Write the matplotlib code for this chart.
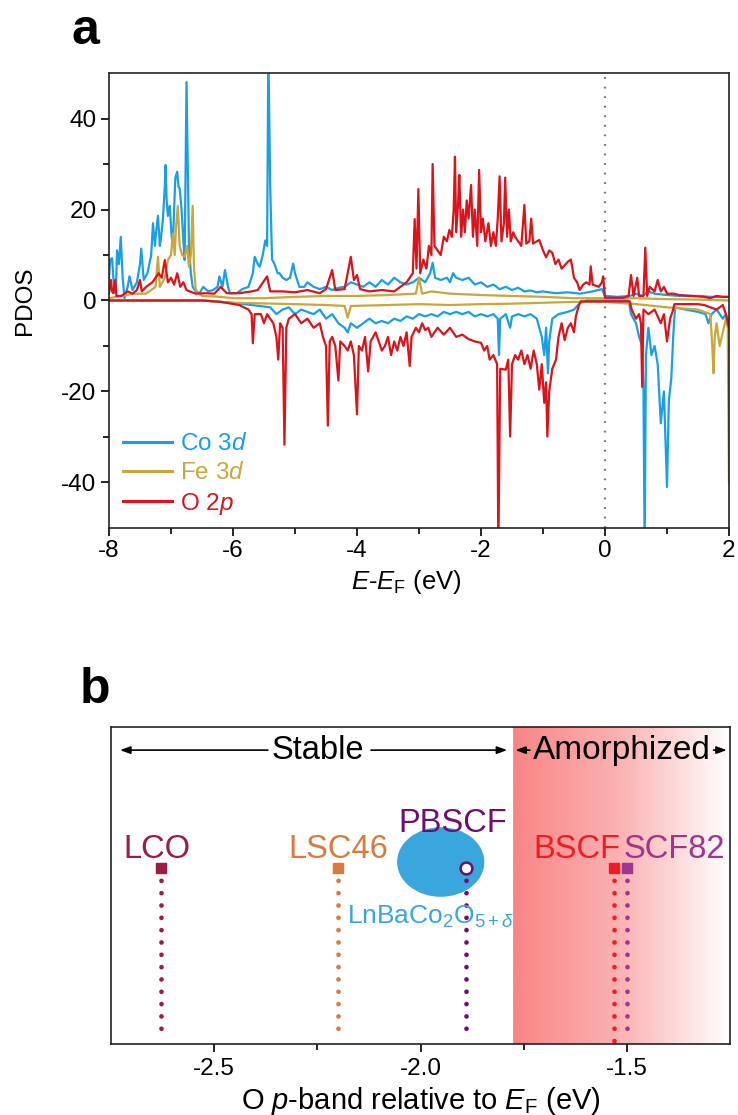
import numpy as np
import matplotlib
matplotlib.use("Agg")
import matplotlib.pyplot as plt
from matplotlib.colors import LinearSegmentedColormap
from matplotlib.patches import Ellipse

plt.rcParams['font.family'] = ['Liberation Sans', 'DejaVu Sans']
plt.rcParams['mathtext.fontset'] = 'custom'
plt.rcParams['mathtext.rm'] = 'Liberation Sans'
plt.rcParams['mathtext.it'] = 'Liberation Sans:italic'
plt.rcParams['mathtext.bf'] = 'Liberation Sans:bold'
plt.rcParams['axes.unicode_minus'] = False

# ---------------- Panel a data (energy, PDOS) ----------------
co_up_e = [-8.00,-7.98,-7.95,-7.92,-7.89,-7.87,-7.84,-7.81,-7.78,-7.75,-7.70,-7.67,-7.62,-7.55,-7.50,-7.48,-7.44,-7.38,-7.32,-7.29,
           -7.26,-7.24,-7.21,-7.18,-7.16,-7.13,-7.10,-7.09,-7.07,-7.05,-7.02,-6.99,-6.97,-6.95,-6.93,-6.90,-6.88,-6.86,-6.83,-6.80,
           -6.78,-6.75,-6.73,-6.71,-6.68,-6.65,-6.60,-6.54,-6.48,-6.40,-6.32,-6.25,-6.22,-6.17,-6.13,-6.08,-6.05,-5.94,-5.85,-5.75,
           -5.68,-5.65,-5.60,-5.57,-5.52,-5.48,-5.45,-5.43,-5.40,-5.37,-5.33,-5.28,-5.25,-5.20,-5.14,-5.08,-5.03,-5.00,-4.93,-4.85,
           -4.80,-4.70,-4.60,-4.50,-4.40,-4.30,-4.20,-4.10,-4.00,-3.90,-3.80,-3.70,-3.60,-3.50,-3.40,-3.30,-3.20,-3.10,-3.00,-2.90,
           -2.82,-2.78,-2.74,-2.65,-2.55,-2.50,-2.45,-2.40,-2.30,-2.20,-2.10,-2.00,-1.90,-1.80,-1.70,-1.60,-1.50,-1.40,-1.30,-1.20,
           -1.10,-1.00,-0.80,-0.60,-0.40,-0.20,-0.05,0.00,0.20,0.40,0.50,0.60,0.70,0.80,1.00,1.20,1.50,1.70,2.00]
co_up_v = [5,9,9.3,3,1.6,11,8,14,5,0.5,3,5.3,2.3,4,8,11.4,4.5,6,10,17,
           12,15,18.6,12,14,18,25,29.8,22,18.6,20.8,14,12,20,27,28.3,25,24.6,20,13,
           8.9,48,30,12,6,3,2,1.6,3,2,2.3,3,5.3,3,6.7,3,1.6,1.6,2.5,3,
           6,9.6,8,7.4,10,13.2,12,55,25,9,8,6,6,5,4.5,5,8.1,6,3,3,
           4,3,2.5,3,2.3,2.8,3,4,3.5,3,4,3,4.5,3.5,5,4,3.5,4,5,4,
           6,8.3,5,4.5,5,4,6,5,4.5,5,3.5,4,3,3.5,2.5,3,2.3,2.8,2,2.2,
           1.8,2,1.6,1.8,1.5,2,2.5,1,0.8,1,1.5,1,2,1.5,1.2,1,1,0.8,0.8]

co_dn_e = [-8.00,-6.50,-6.00,-5.70,-5.40,-5.30,-5.20,-5.10,-5.00,-4.90,-4.80,-4.70,-4.60,-4.50,-4.40,-4.30,-4.20,-4.15,-4.10,-4.00,
           -3.90,-3.80,-3.70,-3.60,-3.50,-3.40,-3.30,-3.20,-3.10,-3.00,-2.90,-2.80,-2.70,-2.60,-2.50,-2.40,-2.30,-2.20,-2.10,-2.00,
           -1.90,-1.80,-1.73,-1.71,-1.69,-1.60,-1.53,-1.50,-1.40,-1.30,-1.20,-1.10,-1.02,-0.98,-0.95,-0.92,-0.90,-0.85,-0.75,-0.60,
           -0.50,-0.40,-0.30,0.38,0.42,0.50,0.55,0.60,0.62,0.64,0.66,0.70,0.75,0.80,0.85,0.90,0.95,1.00,1.03,1.07,
           1.10,1.13,1.30,1.50,1.62,1.67,1.72,1.80,1.90,1.95,2.00]
co_dn_v = [0,0,-0.5,-1,-1.5,-3,-2,-1.5,-3,-2,-2.5,-3,-2,-4,-3,-5,-6,-7,-5,-6,
           -5,-4,-5,-4.5,-5,-4,-4.5,-3.5,-4,-3,-3.5,-3,-3.5,-2.5,-3,-2.5,-3,-2.5,-3.5,-3,
           -3.5,-3,-4,-12,-4,-3,-6,-3.5,-3,-3.5,-3,-4,-8,-12,-6,-16,-9,-4,-3,-2.5,
           -2,-0.5,0,0,-3,-5,-8,-10,-19,-55,-12,-6,-12,-10,-14,-27,-20,-41,-22,-17,
           -8,-1.5,-2,-2.5,-3,-5,-3,-2,-4,-3,-5]

fe_up_e = [-8.00,-7.80,-7.60,-7.40,-7.25,-7.21,-7.18,-7.10,-7.05,-7.00,-6.97,-6.94,-6.92,-6.89,-6.86,-6.82,-6.78,-6.74,-6.71,-6.68,
           -6.65,-6.63,-6.60,-6.50,-6.20,-6.00,-5.50,-5.00,-4.50,-4.00,-3.50,-3.05,-3.00,-2.95,-2.80,-2.50,-2.00,-1.50,-1.00,-0.50,
           0.00,0.50,1.00,1.50,2.00]
fe_up_v = [0.5,1,1.5,1.5,3,9.6,3,5,8.9,10,14.7,10,16,20.8,12,10,9.6,12,7.4,10,
           20.8,7.4,2.3,1,0.8,0.5,0.5,0.8,1,1,1.2,1.5,5,1.5,2,1.5,1.2,1,0.8,0.5,
           0.5,0.5,0.3,0.2,0]

fe_dn_e = [-8.00,-6.50,-6.00,-5.00,-4.50,-4.20,-4.15,-4.10,-3.50,-3.00,-2.50,-2.00,-1.50,-1.00,-0.50,0.00,0.50,1.00,1.50,1.70,
           1.73,1.75,1.77,1.80,1.85,1.90,1.95,1.98,2.00]
fe_dn_v = [0,0,-0.5,-0.8,-1,-1.2,-3.8,-1.2,-1,-0.8,-1,-0.8,-0.7,-0.5,-0.3,-0.3,-0.8,-1.5,-2,-3,
           -10,-16,-8,-5,-10,-7,-4,-6,-40]

o_up_e = [-8.00,-7.97,-7.95,-7.93,-7.90,-7.88,-7.80,-7.70,-7.62,-7.55,-7.50,-7.47,-7.40,-7.30,-7.20,-7.15,-7.10,-7.05,-7.00,-6.95,
          -6.90,-6.85,-6.80,-6.75,-6.70,-6.60,-6.45,-6.30,-6.20,-6.10,-5.90,-5.70,-5.60,-5.45,-5.40,-5.20,-5.00,-4.80,-4.60,-4.50,
          -4.40,-4.35,-4.20,-4.10,-4.05,-4.00,-3.95,-3.80,-3.60,-3.40,-3.30,-3.20,-3.10,-3.07,-3.04,-3.01,-2.98,-2.93,-2.88,-2.84,
          -2.80,-2.78,-2.75,-2.70,-2.65,-2.60,-2.55,-2.51,-2.47,-2.44,-2.42,-2.40,-2.37,-2.35,-2.32,-2.29,-2.26,-2.23,-2.20,-2.16,
          -2.13,-2.10,-2.06,-2.03,-2.00,-1.97,-1.93,-1.88,-1.84,-1.80,-1.76,-1.73,-1.70,-1.67,-1.63,-1.61,-1.58,-1.55,-1.52,-1.48,
          -1.45,-1.40,-1.35,-1.30,-1.27,-1.22,-1.19,-1.16,-1.10,-1.06,-1.00,-0.95,-0.90,-0.85,-0.80,-0.75,-0.70,-0.60,-0.55,-0.50,
          -0.45,-0.41,-0.35,-0.30,-0.25,-0.23,-0.20,-0.10,-0.05,-0.03,0.00,0.30,0.38,0.42,0.46,0.52,0.55,0.62,0.65,0.68,
          0.72,0.80,0.85,0.90,0.95,1.00,1.10,1.20,1.40,1.60,1.70,1.80,1.90,2.00]
o_up_v = [1.6,4.5,2,1.6,4.5,1,1,2,1.5,2.3,4.5,2,3,4,6,5,8.9,4,5,3.5,
          6,3,4,2.3,2,1.5,1.6,1.5,3,1.6,1.6,2,2.3,5.3,2,2,1.8,2.3,1.6,2.5,
          6.7,2.3,2.5,9.6,4.5,5.6,2.5,2,2.3,2,3,4,6,17.9,7,24.5,6,9,7,12,
          10,30,12,11,10,14,13,15.5,14,20,31.6,15,21,27.6,14,20,15,22,18,25.4,
          14,20,12,28.7,15,18,13,17,12,15,12,18,27.3,13,17,27,14,20,13,15,
          14,13,12,21,12.5,13,18,12.5,13,13.3,11,9.5,11,10.5,8,9,7,8.5,9,5,
          4,2.3,3.5,4,3.5,7.5,3.5,3,4,5.3,0.6,0.6,1,5.6,1,5,1,1,11.6,1,
          3,2,4.5,2,3,1.5,1.5,1.2,1,0.8,0.5,1,0.8,0.8]

o_dn_e = [-8.00,-6.50,-6.20,-5.90,-5.75,-5.70,-5.68,-5.65,-5.55,-5.50,-5.45,-5.35,-5.30,-5.27,-5.24,-5.20,-5.17,-5.14,-5.10,-5.00,
          -4.90,-4.80,-4.70,-4.60,-4.55,-4.50,-4.47,-4.44,-4.40,-4.35,-4.30,-4.27,-4.20,-4.15,-4.10,-4.05,-4.00,-3.97,-3.92,-3.87,
          -3.82,-3.78,-3.70,-3.60,-3.55,-3.50,-3.45,-3.40,-3.35,-3.30,-3.25,-3.20,-3.15,-3.12,-3.05,-3.00,-2.95,-2.90,-2.85,-2.80,
          -2.70,-2.60,-2.50,-2.40,-2.30,-2.20,-2.10,-2.00,-1.95,-1.90,-1.86,-1.80,-1.74,-1.72,-1.69,-1.60,-1.56,-1.53,-1.50,-1.45,
          -1.40,-1.35,-1.30,-1.25,-1.20,-1.15,-1.10,-1.06,-1.02,-0.98,-0.95,-0.93,-0.90,-0.85,-0.79,-0.75,-0.70,-0.65,-0.60,-0.55,
          -0.50,-0.47,-0.42,-0.39,0.40,0.43,0.50,0.55,0.58,0.60,0.62,0.70,0.80,0.90,0.95,1.00,1.05,1.10,1.12,1.50,
          1.60,1.70,1.80,1.90,1.95,2.00]
o_dn_v = [0,0,-0.3,-1,-2,-3,-9.4,-3,-3,-5,-3,-5,-8,-13,-5,-6,-31.7,-6,-4,-3,
          -5,-4,-6,-5,-8,-10,-27.5,-9,-8,-10,-17.6,-9,-10,-11,-9,-12,-25,-10,-11,-8,
          -15.6,-9,-7,-11,-10,-8,-12,-9,-11,-8,-10,-7,-14.4,-8,-6,-7,-5,-6.5,-6,-8,
          -6,-7.5,-6,-8,-7.5,-8.5,-9,-9.3,-11,-10,-13,-12,-14,-55,-15,-15.2,-13,-29.9,-14,-12,
          -13,-11,-14,-12,-15,-11,-14,-19.6,-14,-22.5,-18,-29.9,-20,-15,-13,-8,-5,-8.7,-6,-5,
          -7,-3.5,-1,-0.2,-0.2,-2,-4,-3,-5,-19,-2,-3,-2,-5,-3,-9,-4,-2,-0.8,-0.8,
          -1,-1.5,-2,-1,-3,-6]

legend_labels = ['Co 3$\\it{d}$', 'Fe 3$\\it{d}$', 'O 2$\\it{p}$']
colors_a = ['#1A9FE3', '#C9A73C', '#D9141B']

# ---------------- Panel b data ----------------
materials = ['LCO', 'LSC46', 'PBSCF', 'BSCF', 'SCF82']
op_band = [-2.63, -2.20, -1.89, -1.53, -1.50]
mat_colors = ['#9C1C42', '#D97A3F', '#6E0F6E', '#EE1C25', '#A1348E']
label_x = [-2.639, -2.20, -1.922, -1.62, -1.385]
amorph_start = -1.775

fig = plt.figure(figsize=(7.38, 11.15), dpi=100)

# ===== Panel a =====
ax = fig.add_axes([0.1477, 0.5265, 0.8401, 0.408])
ax.plot(co_up_e, co_up_v, color=colors_a[0], lw=1.6, label=legend_labels[0])
ax.plot(co_dn_e, co_dn_v, color=colors_a[0], lw=1.6)
ax.plot(fe_up_e, fe_up_v, color=colors_a[1], lw=1.6, label=legend_labels[1])
ax.plot(fe_dn_e, fe_dn_v, color=colors_a[1], lw=1.6)
ax.plot(o_up_e, o_up_v, color=colors_a[2], lw=1.6, label=legend_labels[2])
ax.plot(o_dn_e, o_dn_v, color=colors_a[2], lw=1.6)
ax.axvline(0, color='#777777', lw=1.6, ls=(0, (0.8, 3.5)), zorder=0.5)
ax.set_xlim(-8, 2)
ax.set_ylim(-50, 50)
ax.set_xticks([-8, -6, -4, -2, 0, 2])
ax.set_xticks([-7, -5, -3, -1, 1], minor=True)
ax.set_yticks([-40, -20, 0, 20, 40])
ax.set_yticks([-30, -10, 10, 30], minor=True)
ax.tick_params(which='major', direction='out', length=6, width=1.2, labelsize=17.5, pad=3)
ax.tick_params(which='minor', direction='out', length=4, width=1.2)
for s in ax.spines.values():
    s.set_linewidth(1.2)
    s.set_color('#222222')
ax.set_ylabel('PDOS', fontsize=17.5)
ax.yaxis.set_label_coords(-0.135, 0.5)
ax.yaxis.label.set_va('center')
ax.set_xlabel('$\\it{E}$-$\\it{E}_{\\rm F}$ (eV)', fontsize=18.5)
ax.xaxis.set_label_coords(0.48, -0.118)
ax.xaxis.label.set_va('center')
leg = ax.legend(frameon=False, loc='lower left', bbox_to_anchor=(0.022, 0.025),
                borderaxespad=0, borderpad=0, fontsize=17.5, handlelength=2.05,
                handletextpad=0.3, labelspacing=0.27)
for t, c in zip(leg.get_texts(), colors_a):
    t.set_color(c)
for h in leg.get_lines():
    h.set_linewidth(2.2)
fig.text(0.097, 0.972, 'a', fontsize=36, fontweight='bold', ha='left', va='center')

# ===== Panel b =====
bx = fig.add_axes([0.1504, 0.0637, 0.8388, 0.2843])
bx.set_xlim(-2.75, -1.25)
bx.set_ylim(0, 1)
cmap = LinearSegmentedColormap.from_list('amorph', ['#F98585', '#FBB3B3', '#FFFFFF'])
grad = np.linspace(0, 1, 256).reshape(1, -1)
bx.imshow(grad, extent=[amorph_start, -1.25, 0, 1], aspect='auto', cmap=cmap, zorder=0)
bx.axvline(amorph_start, color='#BBBBBB', lw=0.8, ls=':', zorder=0.5)
bx.set_yticks([])
bx.set_xticks([-2.5, -2.0, -1.5])
bx.set_xticklabels(['-2.5', '-2.0', '-1.5'])
bx.set_xticks([-2.25, -1.75], minor=True)
bx.tick_params(which='major', direction='out', length=6, width=1.2, labelsize=17.5, pad=4)
bx.tick_params(which='minor', direction='out', length=4, width=1.2)
for s in bx.spines.values():
    s.set_linewidth(1.2)
    s.set_color('#222222')
bx.set_xlabel('O $\\it{p}$-band relative to $\\it{E}_{\\rm F}$ (eV)', fontsize=21)
bx.xaxis.set_label_coords(0.5, -0.18)
bx.xaxis.label.set_va('center')

# LnBaCo2O5+d region
bx.add_patch(Ellipse((-1.951, 0.574), 0.208, 0.215, color='#3AA6DE', zorder=1))
bx.text(-2.178, 0.40, 'LnBaCo$_2$O$_{5+\\delta}$', color='#3AA6DE', fontsize=19,
        ha='left', va='center', zorder=3)

# dotted drop lines, markers, labels
bottoms = [0.03, 0.03, 0.03, 0.0, 0.03]
for name, xv, c, lx, yb in zip(materials, op_band, mat_colors, label_x, bottoms):
    bx.plot([xv, xv], [0.555, yb], color=c, lw=3.4, ls=(0, (0.01, 2.6)),
            dash_capstyle='round', zorder=2)
    if name == 'PBSCF':
        bx.plot([xv], [0.555], marker='o', ms=8.5, mfc='white', mec=c, mew=1.8, zorder=4)
        bx.text(lx, 0.697, name, color=c, fontsize=23.5, ha='center', va='center', zorder=3)
    else:
        bx.plot([xv], [0.555], marker='s', ms=7, color=c, zorder=4)
        bx.text(lx, 0.615, name, color=c, fontsize=23.5, ha='center', va='center', zorder=3)

# Stable / Amorphized annotations
arr_y = 0.927
ap = dict(arrowstyle='-|>,head_length=0.6,head_width=0.22', color='black', lw=1.2,
          shrinkA=0, shrinkB=0)
bx.text(-2.25, arr_y, 'Stable', fontsize=23.5, ha='center', va='center')
bx.annotate('', xy=(-2.728, arr_y), xytext=(-2.37, arr_y), arrowprops=ap)
bx.annotate('', xy=(-1.79, arr_y), xytext=(-2.12, arr_y), arrowprops=ap)
bx.text(-1.513, arr_y, 'Amorphized', fontsize=24, ha='center', va='center')
bx.annotate('', xy=(-1.77, arr_y), xytext=(-1.735, arr_y), arrowprops=ap)
bx.annotate('', xy=(-1.258, arr_y), xytext=(-1.29, arr_y), arrowprops=ap)

fig.text(0.108, 0.381, 'b', fontsize=36, fontweight='bold', ha='left', va='center')

fig.savefig('out.png', dpi=100)
